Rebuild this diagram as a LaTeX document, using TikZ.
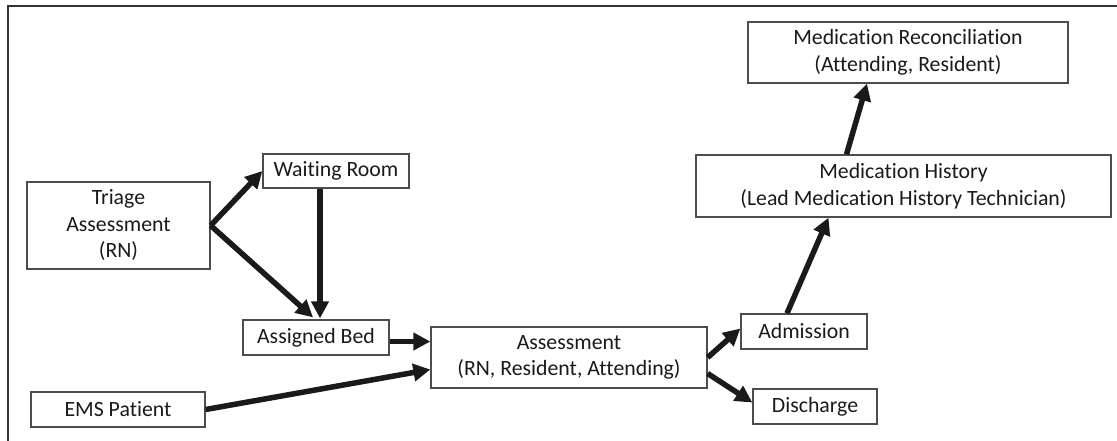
\documentclass[tikz,border=0pt]{standalone}
\usepackage{fontspec}
\setmainfont{Carlito}[Ligatures={NoCommon,NoContextual}]
\usetikzlibrary{arrows.meta,calc}
\definecolor{boxgray}{HTML}{4D4D4D}
\definecolor{arrowcol}{HTML}{1A1A1A}
\definecolor{textcol}{HTML}{1A1A1A}
\definecolor{framecol}{HTML}{333333}
\begin{document}
\begin{tikzpicture}[x=1pt,y=-1pt,
  box/.style={draw=boxgray,line width=1.3pt,align=center,inner sep=0pt,
    text=textcol,font=\fontsize{21.8}{26.5}\selectfont},
  flow/.style={line width=5.5pt,draw=arrowcol,
    -{Triangle[length=17pt,width=17pt]}},
  frameline/.style={draw=framecol,line width=2.2pt}]
\useasboundingbox (0,0) rectangle (1117,440);
\draw[frameline] (8,445) -- (8,6) -- (1122,6);

\node[box,minimum width=183pt,minimum height=87pt] (triage) at (118.5,225.5) {Triage\\Assessment\\(RN)};
\node[box,minimum width=146pt,minimum height=34pt] (wait) at (336,171) {Waiting Room};
\node[box,minimum width=146pt,minimum height=35pt] (bed) at (316,337.5) {Assigned Bed};
\node[box,minimum width=174pt,minimum height=35pt] (ems) at (118,409.5) {EMS Patient};
\node[box,minimum width=276pt,minimum height=61pt] (assess) at (569,357.5) {Assessment\\(RN, Resident, Attending)};
\node[box,minimum width=126pt,minimum height=35pt] (adm) at (804,331.5) {Admission};
\node[box,minimum width=124pt,minimum height=35pt] (dis) at (815,406.5) {Discharge};
\node[box,minimum width=415pt,minimum height=62pt] (hist) at (903.5,186) {Medication History\\(Lead Medication History Technician)};
\node[box,minimum width=320pt,minimum height=61pt] (recon) at (908,52.5) {Medication Reconciliation\\(Attending, Resident)};

\draw[flow] (triage.east) -- (wait.west);
\draw[flow] (triage.east) -- ($(bed.north)+(-3,-2)$);
\draw[flow] ($(wait.south)+(-16,0)$) -- ($(bed.north)+(4,-1)$);
\draw[flow] ($(bed.east)+(0,4)$) -- ($(assess.west)+(0,-16)$);
\draw[flow] (ems.east) -- ($(assess.west)+(0,12)$);
\draw[flow] ($(assess.east)+(0,0)$) -- ($(adm.west)+(0,-3)$);
\draw[flow] ($(assess.east)+(0,16)$) -- ($(dis.west)+(0,-4)$);
\draw[flow] ($(adm.north)+(-17,0)$) -- ($(hist.south)+(-75,0)$);
\draw[flow] ($(hist.north)+(-57,0)$) -- ($(recon.south)+(-41,0)$);
\end{tikzpicture}
\end{document}
